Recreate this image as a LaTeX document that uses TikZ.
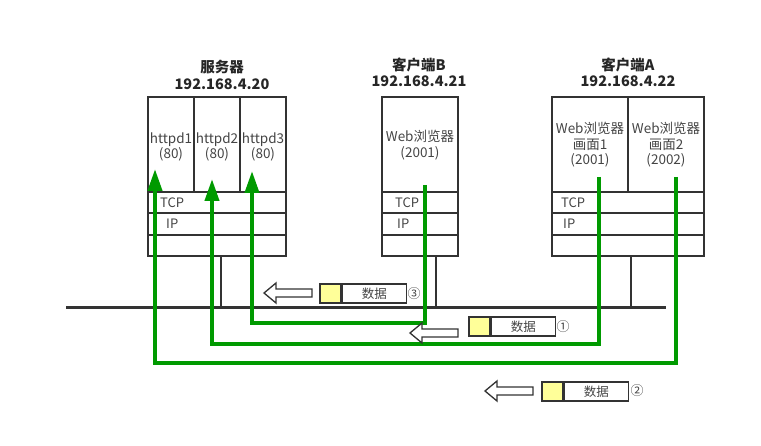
\documentclass[tikz,border=0pt]{standalone}
\usepackage{fontspec}
\setmainfont{Noto Sans CJK SC}
\usetikzlibrary{arrows.meta}
\definecolor{lk}{HTML}{333333}
\definecolor{tx}{HTML}{444444}
\definecolor{gr}{HTML}{009A00}
\definecolor{yl}{HTML}{FFFF99}
\tikzset{
  boxline/.style={draw=lk, line width=1.5pt},
  title/.style={font=\fontsize{14.5}{15}\selectfont\bfseries, text=black!85, inner sep=0},
  celltext/.style={font=\fontsize{13.5}{15.5}\selectfont, text=tx, align=center, inner sep=0},
  rowtext/.style={font=\fontsize{13}{14}\selectfont, text=tx, inner sep=0, anchor=west},
  net/.style={draw=lk, line width=3pt},
  link/.style={draw=lk, line width=1.3pt},
  flow/.style={draw=gr, line width=4pt, -{Triangle[width=14pt,length=22pt]}},
  ybox/.style={draw=lk, line width=1.3pt, fill=yl, minimum width=21pt, minimum height=19pt, inner sep=0},
  wbox/.style={draw=lk, line width=1.3pt, fill=white, minimum width=64pt, minimum height=19pt, inner sep=0, font=\fontsize{12.5}{14}\selectfont, text=tx},
  circ/.style={font=\fontsize{13}{14}\selectfont, text=tx, inner sep=0},
  hollowarrow/.pic={\draw[draw=lk, line width=1.3pt, fill=white] (0,0) -- (12,-10) -- (12,-4) -- (48,-4) -- (48,4) -- (12,4) -- (12,10) -- cycle;}
}
\begin{document}
\begin{tikzpicture}[x=1pt,y=-1pt]
\useasboundingbox (0,0) rectangle (761,446);
% titles
\node[title] (t1a) at (222,67) {服务器};
\node[title] (t1b) at (222,84) {192.168.4.20};
\node[title] (t2a) at (419,65) {客户端B};
\node[title] (t2b) at (419,81) {192.168.4.21};
\node[title] (t3a) at (628,65) {客户端A};
\node[title] (t3b) at (628,81) {192.168.4.22};
% server box
\draw[boxline] (148,97) rectangle (286,256);
\draw[boxline] (148,192) -- (286,192) (148,213) -- (286,213) (148,235) -- (286,235)
  (194,97) -- (194,192) (240,97) -- (240,192);
\node[celltext] (h1) at (171,147) {httpd1\\(80)};
\node[celltext] (h2) at (217,147) {httpd2\\(80)};
\node[celltext] (h3) at (263,147) {httpd3\\(80)};
\node[rowtext] (stcp) at (160,202.5) {TCP};
\node[rowtext] (sip) at (166,224) {IP};
% client B
\draw[boxline] (382,97) rectangle (458,256);
\draw[boxline] (382,192) -- (458,192) (382,213) -- (458,213) (382,235) -- (458,235);
\node[celltext] (wb) at (420,145) {Web浏览器\\(2001)};
\node[rowtext] (btcp) at (395,202.5) {TCP};
\node[rowtext] (bip) at (397,224) {IP};
% client A
\draw[boxline] (552,97) rectangle (704,256);
\draw[boxline] (552,192) -- (704,192) (552,213) -- (704,213) (552,235) -- (704,235)
  (628,97) -- (628,192);
\node[celltext] (wa1) at (590,145) {Web浏览器\\画面1\\(2001)};
\node[celltext] (wa2) at (666,145) {Web浏览器\\画面2\\(2002)};
\node[rowtext] (atcp) at (561,202.5) {TCP};
\node[rowtext] (aip) at (563,224) {IP};
% network
\coordinate (n0) at (66,308);
\coordinate (n1) at (666,308);
\coordinate (s0) at (221,256); \coordinate (s1) at (221,308);
\coordinate (b0) at (436,256); \coordinate (b1) at (436,308);
\coordinate (a0) at (631,256); \coordinate (a1) at (631,308);
\draw[link] (s0) -- (s1);
\draw[link] (b0) -- (b1);
\draw[link] (a0) -- (a1);
\draw[net] (n0) -- (n1);
% green flows
\coordinate (g3s) at (425,185); \coordinate (g3e) at (252,171);
\coordinate (g1s) at (599,177); \coordinate (g1e) at (212,179);
\coordinate (g2s) at (676,177); \coordinate (g2e) at (155,169);
\draw[flow] (g3s) -- (425,323) -- (252,323) -- (g3e);
\draw[flow] (g1s) -- (599,344) -- (212,344) -- (g1e);
\draw[flow] (g2s) -- (676,363) -- (155,363) -- (g2e);
% packets
\pic at (264,293) {hollowarrow};
\node[ybox] (y3) at (330.5,293.5) {};
\node[wbox, anchor=west] (d3) at (y3.east) {数据};
\node[circ] (c3) at (414,294) {③};
\pic at (410,333) {hollowarrow};
\node[ybox] (y1) at (479.5,326.5) {};
\node[wbox, anchor=west] (d1) at (y1.east) {数据};
\node[circ] (c1) at (563,327) {①};
\pic at (485,391) {hollowarrow};
\node[ybox] (y2) at (552.5,391.5) {};
\node[wbox, anchor=west] (d2) at (y2.east) {数据};
\node[circ] (c2) at (637,391) {②};
\end{tikzpicture}
\end{document}
